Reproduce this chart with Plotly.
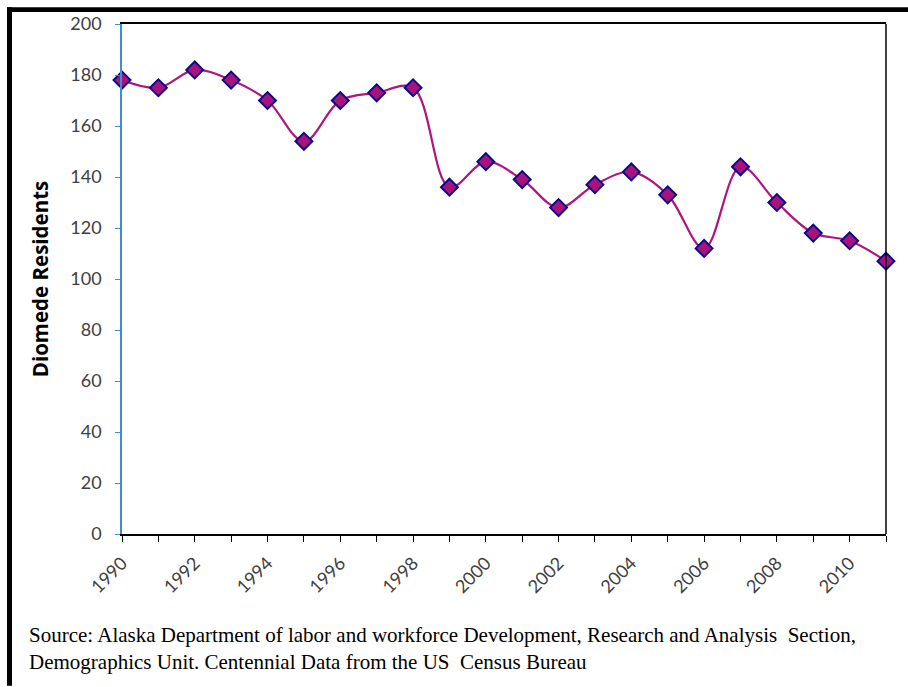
import plotly.graph_objects as go

# Diomede population by year
years = list(range(1990, 2012))
residents = [178, 175, 182, 178, 170, 154, 170, 173, 175, 136, 146,
             139, 128, 137, 142, 133, 112, 144, 130, 118, 115, 107]
tick_labels = [str(y) if y % 2 == 0 else "" for y in years]

W, H = 908, 687
ML, MR, MT, MB = 122, 22, 20, 153
PW, PH = W - ML - MR, H - MT - MB


def px_x(px):
    return (px - ML) / PW


def px_y(py):
    return (H - MB - py) / PH


fig = go.Figure()
fig.add_trace(go.Scatter(
    x=years, y=residents, mode="lines+markers",
    line=dict(color="#B0157E", width=2.2, shape="spline", smoothing=1.0),
    marker=dict(symbol="diamond", size=13, color="#A8127A",
                line=dict(color="#0A0A8C", width=2)),
    cliponaxis=False, showlegend=False,
))

fig.update_layout(
    width=W, height=H,
    margin=dict(l=ML, r=MR, t=MT, b=MB),
    paper_bgcolor="white", plot_bgcolor="white",
    xaxis=dict(
        range=[1990, 2011], tickmode="array", tickvals=years, ticktext=tick_labels,
        tickangle=-45, ticks="outside", ticklen=6, tickcolor="black",
        showline=True, linecolor="black", linewidth=1.5, mirror=True,
        showgrid=False, zeroline=False, ticklabelstandoff=4,
        tickfont=dict(family="Lato", size=18, color="#404040"),
    ),
    yaxis=dict(
        range=[0, 200], dtick=20, ticks="outside", ticklen=5, tickcolor="#3A8FD6",
        showline=True, linecolor="#3A8FD6", linewidth=1.5,
        showgrid=False, zeroline=False, ticklabelstandoff=10,
        tickfont=dict(family="Lato", size=18, color="#404040"),
        title=dict(text="<b>Diomede Residents</b>", standoff=16,
                   font=dict(family="Open Sans", size=20.5, color="black")),
    ),
    shapes=[
        # right border of the plot area
        dict(type="line", xref="paper", yref="paper", x0=1, x1=1, y0=0, y1=1,
             line=dict(color="black", width=1.5)),
        # outer frame: top and left bars
        dict(type="rect", xref="paper", yref="paper", x0=px_x(7), x1=px_x(908),
             y0=px_y(8), y1=px_y(3), fillcolor="black", line=dict(width=0)),
        dict(type="rect", xref="paper", yref="paper", x0=px_x(7), x1=px_x(12),
             y0=px_y(687), y1=px_y(3), fillcolor="black", line=dict(width=0)),
    ],
    annotations=[
        dict(xref="paper", yref="paper", x=px_x(27), y=px_y(622),
             xanchor="left", yanchor="top", align="left", showarrow=False,
             text="Source: Alaska Department of labor and workforce Development, "
                  "Research and Analysis  Section,<br>Demographics Unit. Centennial "
                  "Data from the US  Census Bureau",
             font=dict(family="Liberation Serif", size=21, color="black")),
    ],
)

fig.write_html("out.html")
